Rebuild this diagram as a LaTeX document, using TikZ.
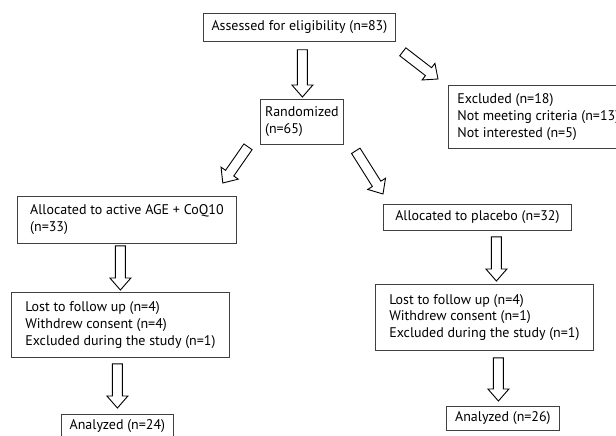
\documentclass[tikz,border=0pt]{standalone}
\usepackage{fontspec}
\setmainfont{PT Sans}
\usepackage{tikz}
\usetikzlibrary{calc}

\begin{document}
\begin{tikzpicture}[
  x=1pt, y=-1pt,
  font=\fontsize{14}{16.7}\selectfont,
  box/.style={draw=black!75, line width=0.8pt, anchor=north west,
              align=left, inner xsep=0pt, inner ysep=0pt},
  % hollow block arrow drawn between two points
  fat/.style={draw, line width=0.9pt, line join=miter, to path={
    ($(\tikztotarget)!12pt!(\tikztostart)$) coordinate (fh)
    ($(\tikztostart)!5pt!90:(\tikztotarget)$)
    -- ($(fh)!5pt!270:(\tikztostart)$)
    -- ($(fh)!10.5pt!270:(\tikztostart)$)
    -- (\tikztotarget)
    -- ($(fh)!10.5pt!90:(\tikztostart)$)
    -- ($(fh)!5pt!90:(\tikztostart)$)
    -- ($(\tikztostart)!5pt!270:(\tikztotarget)$)
    -- cycle}},
]
\useasboundingbox (0,0) rectangle (616,436);
\clip (0,0) rectangle (616,436);

\node[box, minimum width=192, minimum height=28] (elig) at (203,13)
  {Assessed for eligibility (n=83)};
\node[box, minimum width=83, minimum height=45] (rand) at (260,99)
  {Randomized\\(n=65)};
\node[box, inner xsep=9pt, minimum height=63] (excl) at (448,85)
  {Excluded (n=18)\\Not meeting criteria (n=13)\\Not interested (n=5)};

\node[box, minimum width=219, minimum height=47] (act) at (17,196)
  {Allocated to active AGE + CoQ10\\(n=33)};
\node[box, minimum width=218, minimum height=65] (lossa) at (11,292)
  {Lost to follow up (n=4)\\Withdrew consent (n=4)\\Excluded during the study (n=1)};
\node[box, minimum width=112, minimum height=24] (ana) at (61,414)
  {Analyzed (n=24)};

\node[box, minimum width=188, minimum height=26] (plc) at (383,204)
  {Allocated to placebo (n=32)};
\node[box, minimum width=218, minimum height=66] (lossp) at (375,284)
  {Lost to follow up (n=4)\\Withdrew consent (n=1)\\Excluded during the study (n=1)};
\node[box, minimum width=113, minimum height=24] (anp) at (446,406)
  {Analyzed (n=26)};

\draw[fat] ($(elig.south)+(3,8)$) to ($(rand.north)+(0.5,-2)$);
\draw[fat] ($(elig.south east)+(7,10)$) to ($(excl.north west)+(-10,-6)$);
\draw[fat] ($(rand.south west)+(-12,2)$) to ($(act.north east)+(-14,-13)$);
\draw[fat] ($(rand.south east)+(12,6)$) to ($(plc.north west)+(0,-10)$);

\draw[fat] ($(act.south)+(-6.5,2)$) to ($(lossa.north)+(0,-2)$);
\draw[fat] ($(lossa.south)+(-3,6)$) to ($(ana.north)+(0,-6)$);
\draw[fat] ($(plc.south)+(19,6)$) to ($(lossp.north)+(12,-3)$);
\draw[fat] ($(lossp.south)+(14,7)$) to ($(anp.north)+(-4.5,-5)$);

\end{tikzpicture}
\end{document}
